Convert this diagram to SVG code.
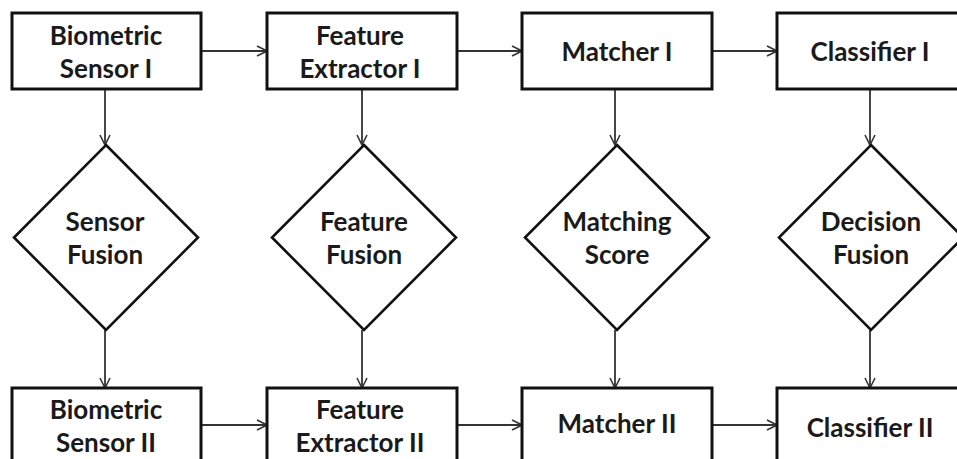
<svg xmlns="http://www.w3.org/2000/svg" width="957" height="459" viewBox="0 0 957 459">
<defs>
<marker id="arr" viewBox="0 0 12 12" refX="11" refY="6" markerWidth="12" markerHeight="12" markerUnits="userSpaceOnUse" orient="auto">
<path d="M1,1 L11,6 L1,11" fill="none" stroke="#333" stroke-width="1.6"/>
</marker>
<style>
.box{fill:#fff;stroke:#111;stroke-width:3}
.dia{fill:#fff;stroke:#111;stroke-width:2.6}
.lbl{font-family:Lato,"Open Sans","Liberation Sans",sans-serif;font-weight:bold;font-size:26px;fill:#1a1a1a;text-anchor:middle}
.c{fill:none;stroke:#333;stroke-width:1.8;marker-end:url(#arr)}
</style>
</defs>
<rect width="957" height="459" fill="#fff"/>
<g id="connectors">
<line class="c" x1="201" y1="51" x2="267" y2="51"/>
<line class="c" x1="457" y1="51" x2="522" y2="51"/>
<line class="c" x1="712" y1="51" x2="777" y2="51"/>
<line class="c" x1="201" y1="425" x2="267" y2="425"/>
<line class="c" x1="457" y1="425" x2="522" y2="425"/>
<line class="c" x1="712" y1="425" x2="777" y2="425"/>
<line class="c" x1="105" y1="89" x2="105" y2="145"/>
<line class="c" x1="362" y1="89" x2="362" y2="145"/>
<line class="c" x1="615" y1="89" x2="615" y2="145"/>
<line class="c" x1="870" y1="89" x2="870" y2="145"/>
<line class="c" x1="105" y1="330" x2="105" y2="388"/>
<line class="c" x1="362" y1="330" x2="362" y2="388"/>
<line class="c" x1="615" y1="330" x2="615" y2="388"/>
<line class="c" x1="870" y1="330" x2="870" y2="388"/>
</g>
<g id="sensor1"><rect class="box" x="12" y="13" width="189" height="76"/><text class="lbl" x="106" y="45">Biometric</text><text class="lbl" x="106" y="78">Sensor I</text></g>
<g id="extractor1"><rect class="box" x="267" y="13" width="190" height="76"/><text class="lbl" x="360" y="45">Feature</text><text class="lbl" x="360" y="78">Extractor I</text></g>
<g id="matcher1"><rect class="box" x="522" y="13" width="190" height="76"/><text class="lbl" x="617" y="61">Matcher I</text></g>
<g id="classifier1"><rect class="box" x="777" y="13" width="190" height="76"/><text class="lbl" x="870" y="61">Classifier I</text></g>
<g id="sensorFusion"><polygon class="dia" points="106,145 198,237.5 106,330 14,237.5"/><text class="lbl" x="105" y="231">Sensor</text><text class="lbl" x="105" y="264">Fusion</text></g>
<g id="featureFusion"><polygon class="dia" points="364,145 456,237.5 364,330 272,237.5"/><text class="lbl" x="364" y="231">Feature</text><text class="lbl" x="364" y="264">Fusion</text></g>
<g id="matchingScore"><polygon class="dia" points="617,145 709,237.5 617,330 525,237.5"/><text class="lbl" x="617" y="231">Matching</text><text class="lbl" x="617" y="264">Score</text></g>
<g id="decisionFusion"><polygon class="dia" points="871,145 963,237.5 871,330 779,237.5"/><text class="lbl" x="871" y="231">Decision</text><text class="lbl" x="871" y="264">Fusion</text></g>
<g id="sensor2"><rect class="box" x="12" y="388" width="189" height="100"/><text class="lbl" x="106" y="419">Biometric</text><text class="lbl" x="106" y="452">Sensor II</text></g>
<g id="extractor2"><rect class="box" x="267" y="388" width="190" height="100"/><text class="lbl" x="360" y="419">Feature</text><text class="lbl" x="360" y="452">Extractor II</text></g>
<g id="matcher2"><rect class="box" x="522" y="388" width="190" height="100"/><text class="lbl" x="617" y="433">Matcher II</text></g>
<g id="classifier2"><rect class="box" x="777" y="388" width="190" height="100"/><text class="lbl" x="870" y="437">Classifier II</text></g>
</svg>
